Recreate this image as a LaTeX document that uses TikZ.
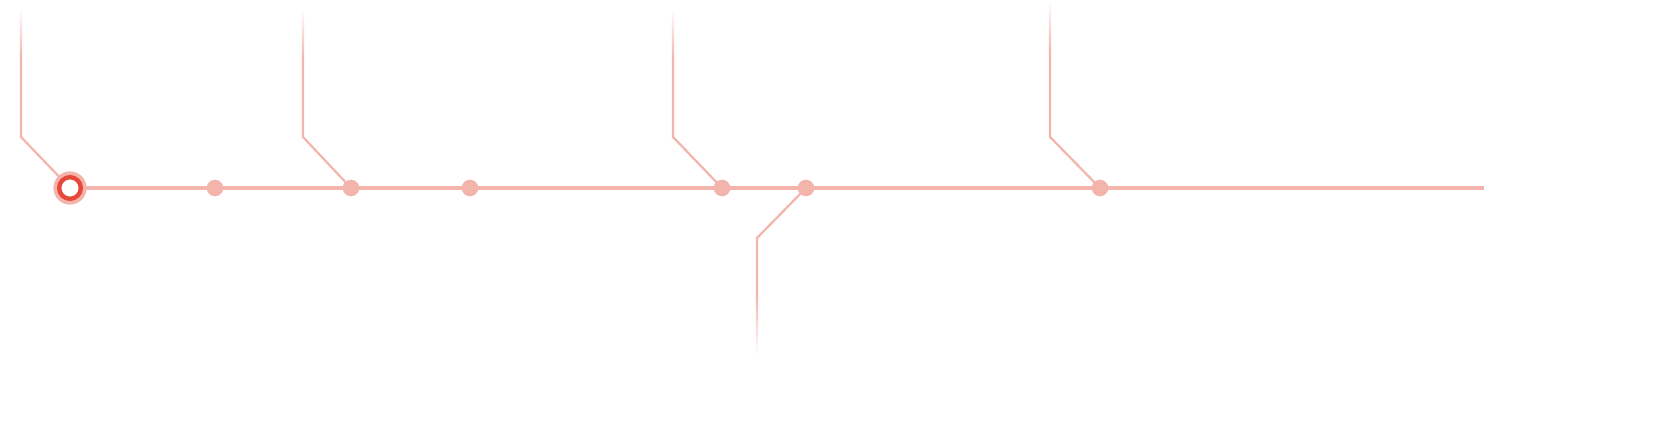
\documentclass[tikz,border=0pt]{standalone}
\usetikzlibrary{backgrounds}
\definecolor{lpink}{RGB}{243,180,172}
\definecolor{lred}{RGB}{231,72,58}
\begin{document}
\begin{tikzpicture}[x=1pt,y=-1pt,
  branch/.style={draw=lpink,line width=2.2pt},
  mainline/.style={draw=lpink,line width=3.2pt},
  stopdot/.style={circle,fill=lpink,minimum size=16.6pt,inner sep=0pt},
  fadeup/.style={top color=white,bottom color=lpink},
  fadedown/.style={top color=lpink,bottom color=white}]
\useasboundingbox (0,0) rectangle (1662,425);
% stops
\node[circle,fill=lpink,minimum size=33.2pt,inner sep=0pt] (s0) at (70,188) {};
\node[circle,draw=lred,line width=4.4pt,fill=white,minimum size=21.6pt,inner sep=0pt] (s0ring) at (s0) {};
\node[stopdot] (d1) at (215,188) {};
\node[stopdot] (d2) at (351,188) {};
\node[stopdot] (d3) at (470,188) {};
\node[stopdot] (d4) at (722,188) {};
\node[stopdot] (d5) at (806,188) {};
\node[stopdot] (d6) at (1100,188) {};
\coordinate (lend) at (1484,188);
% branch coordinates
\coordinate (k0) at (21,137);   \coordinate (t0) at (21,58);
\coordinate (k2) at (303,137);  \coordinate (t2) at (303,58);
\coordinate (k4) at (673,137);  \coordinate (t4) at (673,58);
\coordinate (k6) at (1050,137); \coordinate (t6) at (1050,52);
\coordinate (k5) at (757,238);  \coordinate (b5) at (757,295);
\begin{scope}[on background layer]
  \draw[mainline] (s0.center) -- (d1.center) -- (d2.center) -- (d3.center) -- (d4.center) -- (d5.center) -- (d6.center) -- (lend);
  \draw[branch] (t0) -- (k0) -- (s0.center);
  \draw[branch] (t2) -- (k2) -- (d2.center);
  \draw[branch] (t4) -- (k4) -- (d4.center);
  \draw[branch] (t6) -- (k6) -- (d6.center);
  \draw[branch] (b5) -- (k5) -- (d5.center);
  \shade[fadeup] (19.9,8) rectangle (22.1,58.5);
  \shade[fadeup] (301.9,8) rectangle (304.1,58.5);
  \shade[fadeup] (671.9,8) rectangle (674.1,58.5);
  \shade[fadeup] (1048.9,0) rectangle (1051.1,52.5);
  \shade[fadedown] (755.9,294.5) rectangle (758.1,356);
\end{scope}
\end{tikzpicture}
\end{document}
